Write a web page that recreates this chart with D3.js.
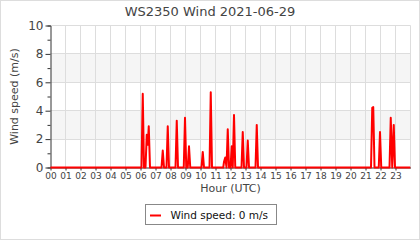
<!DOCTYPE html>
<html>
<head>
<meta charset="utf-8">
<script src="https://cdn.jsdelivr.net/npm/d3@7"></script>
<style>
  html, body { margin: 0; padding: 0; background: #fff; }
  svg { display: block; font-family: "DejaVu Sans", sans-serif; }
</style>
</head>
<body>
<svg width="420" height="240"></svg>
<script>
// readings (UTC time, wind speed m/s) - calm between the listed points
var times = ['00:00', '06:04', '06:09', '06:14', '06:20', '06:25', '06:29', '06:33', '06:38',
  '07:24', '07:29', '07:34', '07:44', '07:49', '07:54', '08:20', '08:25', '08:30',
  '08:53', '08:58', '09:03', '09:09', '09:14', '09:19', '10:04', '10:09', '10:14',
  '10:36', '10:41', '10:46', '11:31', '11:34', '11:39', '11:44', '11:49', '11:54',
  '12:00', '12:05', '12:09', '12:14', '12:19', '12:44', '12:49', '12:54',
  '13:04', '13:09', '13:14', '13:40', '13:45', '13:50',
  '21:22', '21:27', '21:31', '21:36', '21:53', '21:58', '22:03',
  '22:36', '22:41', '22:47', '22:53', '22:58', '23:59'];
var speeds = [0, 0, 5.2, 0, 0, 2.3, 1.6, 2.9, 0,
  0, 1.2, 0, 0, 2.9, 0, 0, 3.3, 0,
  0, 3.5, 0, 0, 1.5, 0, 0, 1.1, 0,
  0, 5.3, 0, 0, 0.4, 0.7, 0, 2.7, 0,
  0, 1.5, 0, 3.7, 0, 0, 2.5, 0,
  0, 1.9, 0, 0, 3.0, 0,
  0, 4.2, 4.25, 0, 0, 2.5, 0,
  0, 3.5, 0, 3.0, 0, 0];
var hourLabels = d3.range(24).map(function (h) { return (h < 10 ? '0' : '') + h; });
var yTicks = [0, 2, 4, 6, 8, 10];
var title = 'WS2350 Wind 2021-06-29';

var data = times.map(function (t, i) {
  var p = t.split(':');
  return { h: +p[0] + p[1] / 60, v: speeds[i] };
});

var svg = d3.select('svg');
var x = d3.scaleLinear().domain([0, 24]).range([50.5, 410.5]);
var y = d3.scaleLinear().domain([0, 10]).range([167.5, 25.5]);
var ry = function (v) { return Math.round(y(v) - 0.5) + 0.5; };

// outer border
svg.append('rect')
  .attr('x', 0.5).attr('y', 0.5).attr('width', 419).attr('height', 239)
  .attr('fill', '#fff').attr('stroke', '#ddd');

// alternating bands
[[2, 4], [6, 8]].forEach(function (b) {
  svg.append('rect')
    .attr('x', x(0)).attr('y', ry(b[1]))
    .attr('width', x(24) - x(0)).attr('height', ry(b[0]) - ry(b[1]))
    .attr('fill', '#f5f5f5');
});

// grid
svg.append('g').selectAll('line')
  .data(d3.range(1, 25))
  .enter().append('line')
  .attr('x1', function (d) { return x(d); }).attr('x2', function (d) { return x(d); })
  .attr('y1', ry(10)).attr('y2', ry(0))
  .attr('stroke', '#ddd');
svg.append('g').selectAll('line')
  .data(yTicks.slice(1))
  .enter().append('line')
  .attr('x1', x(0)).attr('x2', x(24))
  .attr('y1', ry).attr('y2', ry)
  .attr('stroke', '#ddd');

// axes
var yAxis = svg.append('g')
  .attr('transform', 'translate(' + x(0) + ',0)')
  .call(d3.axisLeft(y).tickValues(d3.range(0, 11)).tickSize(3).tickFormat(''));
yAxis.selectAll('.tick').filter(function (d) { return d % 2 === 0; })
  .select('line').attr('x2', -5);
yAxis.selectAll('.tick').filter(function (d) { return d % 2 === 0; })
  .select('text').text(function (d) { return d; }).attr('x', -7);
yAxis.select('.domain').attr('stroke', '#333');
yAxis.selectAll('line').attr('stroke', '#333');
yAxis.selectAll('text').attr('font-size', 12).attr('fill', '#444')
  .attr('font-family', '"DejaVu Sans", sans-serif');

var xAxis = svg.append('g')
  .attr('transform', 'translate(0,' + ry(0) + ')')
  .call(d3.axisBottom(x).tickValues(d3.range(24)).tickSize(3).tickSizeOuter(0)
    .tickFormat(function (d) { return hourLabels[d]; }));
xAxis.select('.domain').attr('stroke', '#333');
xAxis.selectAll('line').attr('stroke', '#333');
xAxis.selectAll('text').attr('font-size', 9).attr('fill', '#444').attr('y', 5)
  .attr('font-family', '"DejaVu Sans", sans-serif');

// wind line
svg.append('path')
  .datum(data)
  .attr('fill', 'none')
  .attr('stroke', '#f00')
  .attr('stroke-width', 2)
  .attr('stroke-linejoin', 'round')
  .attr('d', d3.line().x(function (d) { return x(d.h); }).y(function (d) { return y(d.v); }));

// labels
svg.append('text')
  .attr('x', 210).attr('y', 16)
  .attr('text-anchor', 'middle')
  .attr('font-size', 13).attr('fill', '#444')
  .text(title);

svg.append('text')
  .attr('transform', 'translate(18,' + ((y(0) + y(10)) / 2) + ') rotate(-90)')
  .attr('text-anchor', 'middle')
  .attr('font-size', 11).attr('fill', '#444')
  .text('Wind speed (m/s)');

svg.append('text')
  .attr('x', (x(0) + x(24)) / 2).attr('y', 192)
  .attr('text-anchor', 'middle')
  .attr('font-size', 11).attr('fill', '#444')
  .text('Hour (UTC)');

// legend
var legend = svg.append('g').attr('transform', 'translate(145.5,204.5)');
legend.append('rect')
  .attr('width', 131).attr('height', 20)
  .attr('fill', '#fff').attr('stroke', '#888');
legend.append('line')
  .attr('x1', 4.5).attr('x2', 15.5).attr('y1', 11).attr('y2', 11)
  .attr('stroke', '#f00').attr('stroke-width', 2);
legend.append('text')
  .attr('x', 25).attr('y', 14)
  .attr('font-size', 10.5).attr('fill', '#111')
  .text('Wind speed: 0 m/s');
</script>
</body>
</html>
